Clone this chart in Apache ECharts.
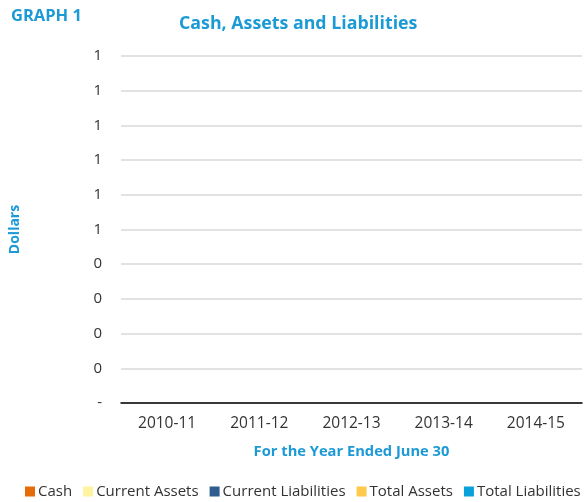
<!DOCTYPE html>
<html>
<head>
<meta charset="utf-8">
<script src="https://cdn.jsdelivr.net/npm/echarts@6/dist/echarts.min.js"></script>
<style>
  html, body { margin: 0; padding: 0; background: #fff; }
  #chart { width: 584px; height: 502px; }
</style>
</head>
<body>
<div id="chart"></div>
<script>
const years = ["2010-11", "2011-12", "2012-13", "2013-14", "2014-15"];
const seriesNames = ["Cash", "Current Assets", "Current Liabilities", "Total Assets", "Total Liabilities"];
const seriesColors = ["#e46c0a", "#fff2a1", "#2f5d8f", "#ffc94b", "#0aa0d9"];
// all values are blank in the source chart
const cash = [0, 0, 0, 0, 0];
const currentAssets = [0, 0, 0, 0, 0];
const currentLiabilities = [0, 0, 0, 0, 0];
const totalAssets = [0, 0, 0, 0, 0];
const totalLiabilities = [0, 0, 0, 0, 0];
const seriesData = [cash, currentAssets, currentLiabilities, totalAssets, totalLiabilities];

const blue = "#1b9ad6";
const font = "'Open Sans', 'Liberation Sans', sans-serif";

let chart = echarts.init(document.getElementById("chart"));

const options = {
  textStyle: { fontFamily: font },
  title: [
    {
      text: "GRAPH 1",
      left: 6, top: 3,
      textStyle: { color: blue, fontSize: 16.5, fontWeight: "bold", fontFamily: font }
    },
    {
      text: "Cash, Assets and Liabilities",
      left: 174, top: 10,
      textStyle: { color: blue, fontSize: 17.8, fontWeight: "bold", fontFamily: font }
    }
  ],
  legend: {
    top: 484,
    left: 25,
    right: 0,
    padding: 0,
    itemWidth: 10,
    itemHeight: 10,
    itemGap: 11,
    icon: "rect",
    textStyle: { color: "#333", fontSize: 15, padding: [0, 0, 0, -2] },
    data: seriesNames
  },
  grid: { left: 117, right: 2, top: 56, bottom: 99 },
  xAxis: {
    type: "category",
    data: years,
    name: "For the Year Ended June 30",
    nameLocation: "middle",
    nameGap: 41,
    nameTextStyle: { color: blue, fontSize: 14.7, fontWeight: "bold" },
    axisLine: { lineStyle: { color: "#000", width: 1.5 } },
    axisTick: { show: false },
    axisLabel: { color: "#333", fontSize: 15.5, margin: 13 }
  },
  yAxis: {
    type: "value",
    min: 0, max: 1, interval: 0.1,
    name: "Dollars",
    nameLocation: "middle",
    nameGap: 99,
    nameTextStyle: { color: blue, fontSize: 14, fontWeight: "bold" },
    axisLine: { show: false },
    axisTick: { show: false },
    axisLabel: {
      color: "#333", fontSize: 15, margin: 19,
      formatter: v => (v === 0 ? "-" : String(Math.round(v)))
    },
    splitLine: { lineStyle: { color: "#d9d9d9", width: 1.5 } }
  },
  series: seriesNames.map((name, i) => ({
    name: name,
    type: "bar",
    data: seriesData[i],
    itemStyle: { color: seriesColors[i] }
  }))
};

chart.setOption(options);
</script>
</body>
</html>
